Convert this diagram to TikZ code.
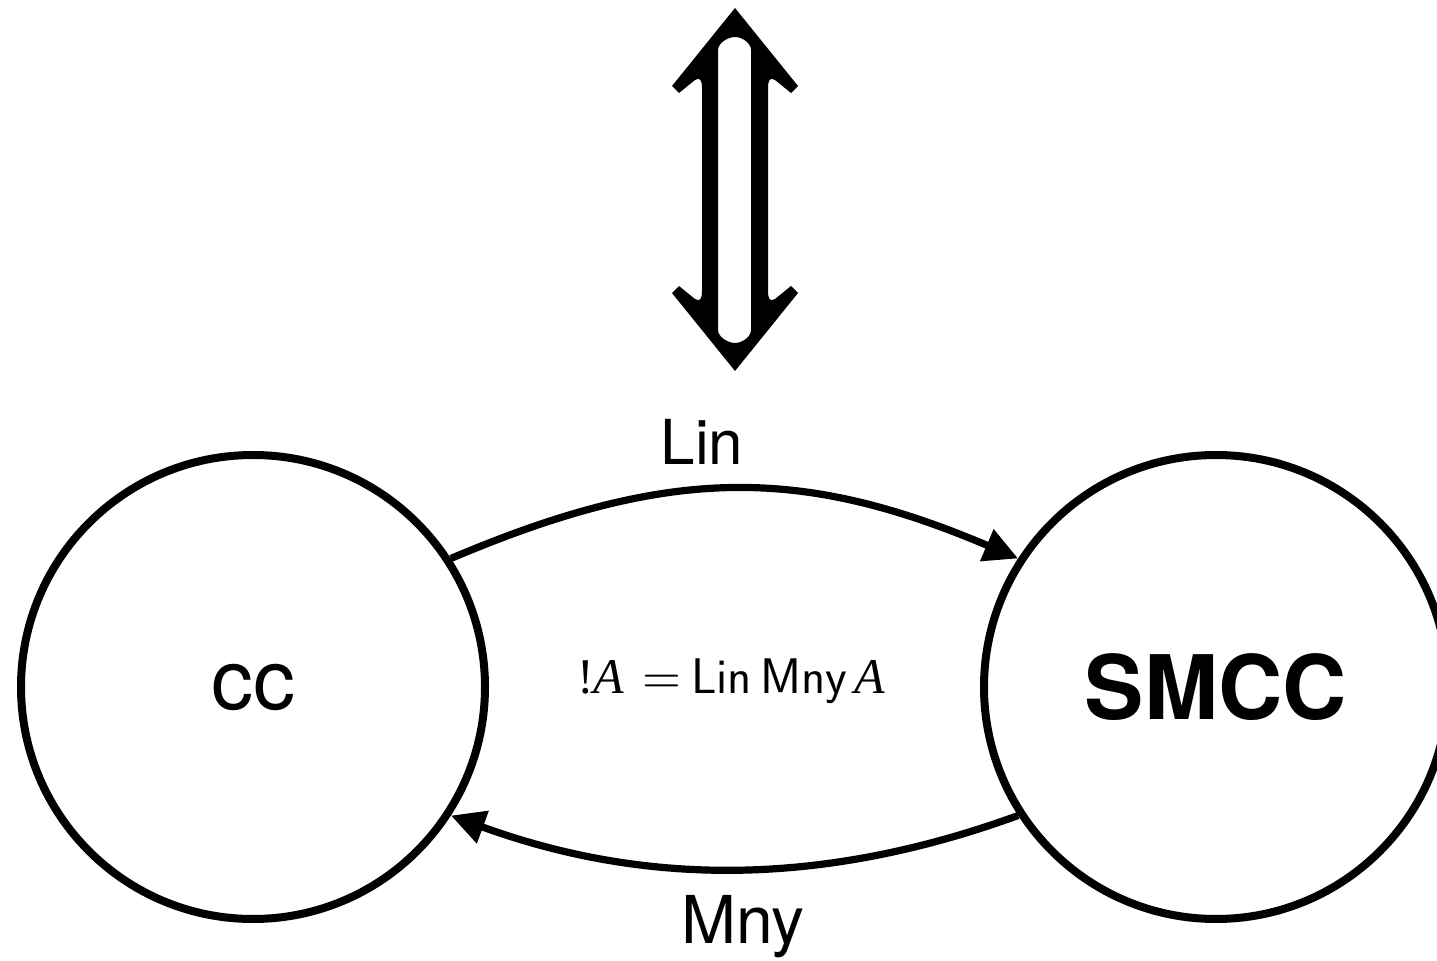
\documentclass[tikz,border=0pt]{standalone}
\usepackage{fontspec}
\setmainfont{TeX Gyre Heros}
\newfontfamily\tms{Liberation Serif}
\newfontfamily\lmr{lmroman10-regular.otf}
\usetikzlibrary{arrows.meta}

\begin{document}
\begin{tikzpicture}[x=0.5pt, y=0.5pt,
  state/.style={circle, draw, line width=4pt, minimum size=232pt, inner sep=0pt},
  trans/.style={line width=3.6pt, -{Triangle[length=17pt,width=16.5pt]}},
  lbl/.style={inner sep=0pt, anchor=base}]
\useasboundingbox (0,0) rectangle (1437,960);

% the two categories
\node[state, font=\fontsize{42}{48}\selectfont] (cc) at (253,273) {cc};
\node[state, font=\fontsize{44.5}{52}\selectfont\bfseries] (smcc) at (1216,273) {SMCC};

% functors between them
\draw[trans] (cc.33) to[out=23, in=157, looseness=1.07] (smcc.147);
\draw[trans] (smcc.-147) to[out=-160, in=-20, looseness=0.94] (cc.-33);

\node[lbl, font=\fontsize{31}{36}\selectfont] (lin) at (702,495) {Lin};
\node[lbl, font=\fontsize{33}{38}\selectfont] (mny) at (743,17) {Mny};

% the exponential modality
\node[inner sep=0pt, anchor=base, font=\fontsize{25}{30}\selectfont] (eq) at (731,266)
  {{\tms !\itshape A}\hspace{0.36em}{\lmr =}\hspace{0.2em}{\sffamily Lin\hspace{0.17em}Mny}\hspace{0.14em}{\tms\itshape A}};

% large double-headed vertical arrow
\begin{scope}[shift={(0,960)}, yscale=-1]
\fill[even odd rule]
  (735,8) -- (798,86) -- (791,93) -- (775,80)
  .. controls (770,77) and (768,80) .. (768,88) -- (768,291)
  .. controls (768,299) and (770,302) .. (775,299)
  -- (791,286) -- (798,293) -- (735,371) -- (672,293) -- (679,286) -- (695,299)
  .. controls (700,302) and (702,299) .. (702,291) -- (702,88)
  .. controls (702,80) and (700,77) .. (695,80)
  -- (679,93) -- (672,86) -- cycle
  (718,50) .. controls (718,43) and (728,37) .. (735,37)
  .. controls (742,37) and (751,43) .. (751,50) -- (751,330)
  .. controls (751,337) and (742,343) .. (735,343)
  .. controls (728,343) and (718,337) .. (718,330) -- cycle;
\end{scope}
\end{tikzpicture}
\end{document}
